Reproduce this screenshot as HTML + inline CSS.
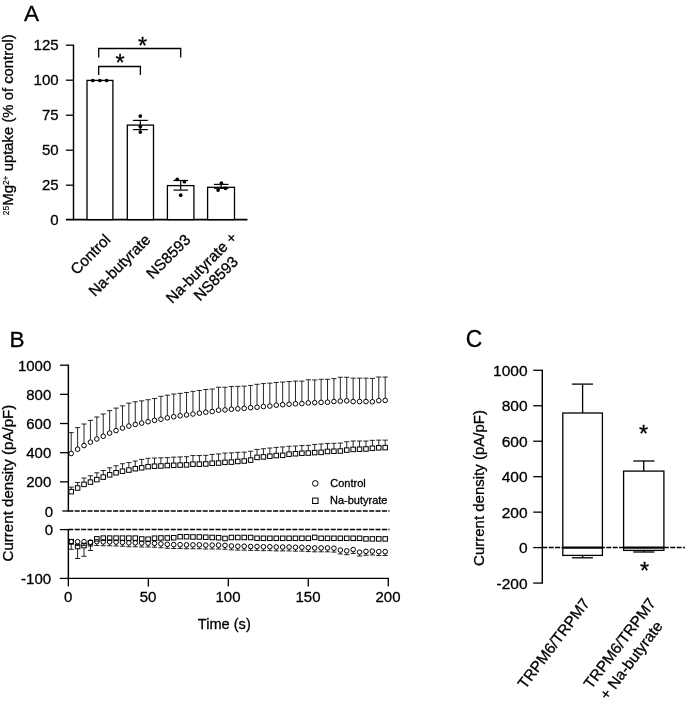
<!DOCTYPE html>
<html><head><meta charset="utf-8"><title>Figure</title>
<style>
html,body{margin:0;padding:0;background:#fff;}
svg{display:block;will-change:transform;}
svg text{font-family:"Liberation Sans",Arial,Helvetica,sans-serif;fill:#000;stroke:#000;stroke-width:0.3px;stroke-linejoin:round;}
</style></head>
<body>
<svg width="685" height="705" viewBox="0 0 685 705">
<rect width="685" height="705" fill="#fff"/>
<text x="24.10" y="20.90" font-size="22.6" text-anchor="start" >A</text>
<line x1="73.50" y1="44.55" x2="73.50" y2="220.30" stroke="#000" stroke-width="1.45" />
<text x="58.60" y="224.80" font-size="15.0" text-anchor="end" >0</text>
<line x1="65.90" y1="185.20" x2="73.50" y2="185.20" stroke="#000" stroke-width="1.3" />
<text x="58.60" y="190.10" font-size="15.0" text-anchor="end" >25</text>
<line x1="65.90" y1="150.20" x2="73.50" y2="150.20" stroke="#000" stroke-width="1.3" />
<text x="58.60" y="155.10" font-size="15.0" text-anchor="end" >50</text>
<line x1="65.90" y1="115.20" x2="73.50" y2="115.20" stroke="#000" stroke-width="1.3" />
<text x="58.60" y="120.10" font-size="15.0" text-anchor="end" >75</text>
<line x1="65.90" y1="80.20" x2="73.50" y2="80.20" stroke="#000" stroke-width="1.3" />
<text x="58.60" y="85.10" font-size="15.0" text-anchor="end" >100</text>
<line x1="65.90" y1="45.20" x2="73.50" y2="45.20" stroke="#000" stroke-width="1.3" />
<text x="58.60" y="50.10" font-size="15.0" text-anchor="end" >125</text>
<line x1="65.90" y1="219.60" x2="247.50" y2="219.60" stroke="#000" stroke-width="1.6" />
<rect x="87.00" y="80.40" width="25.90" height="139.20" fill="#fff" stroke="#000" stroke-width="1.3"/>
<rect x="127.30" y="125.10" width="26.20" height="94.50" fill="#fff" stroke="#000" stroke-width="1.3"/>
<rect x="167.40" y="185.60" width="26.50" height="34.00" fill="#fff" stroke="#000" stroke-width="1.3"/>
<rect x="207.60" y="187.30" width="26.90" height="32.30" fill="#fff" stroke="#000" stroke-width="1.3"/>
<line x1="140.30" y1="120.40" x2="140.30" y2="129.60" stroke="#000" stroke-width="1.2" />
<line x1="132.90" y1="120.40" x2="147.80" y2="120.40" stroke="#000" stroke-width="1.2" />
<line x1="132.90" y1="129.60" x2="147.80" y2="129.60" stroke="#000" stroke-width="1.2" />
<line x1="180.70" y1="180.50" x2="180.70" y2="190.10" stroke="#000" stroke-width="1.2" />
<line x1="173.40" y1="180.50" x2="188.10" y2="180.50" stroke="#000" stroke-width="1.2" />
<line x1="173.40" y1="190.10" x2="188.10" y2="190.10" stroke="#000" stroke-width="1.2" />
<line x1="221.20" y1="184.40" x2="221.20" y2="188.30" stroke="#000" stroke-width="1.2" />
<line x1="214.00" y1="184.40" x2="228.50" y2="184.40" stroke="#000" stroke-width="1.2" />
<line x1="214.00" y1="188.30" x2="228.50" y2="188.30" stroke="#000" stroke-width="1.2" />
<circle cx="92.80" cy="80.50" r="1.85" fill="#000"/>
<circle cx="99.80" cy="80.50" r="1.85" fill="#000"/>
<circle cx="106.60" cy="80.50" r="1.85" fill="#000"/>
<circle cx="140.30" cy="116.10" r="1.85" fill="#000"/>
<circle cx="140.30" cy="126.60" r="1.85" fill="#000"/>
<circle cx="140.30" cy="132.10" r="1.85" fill="#000"/>
<circle cx="177.20" cy="179.30" r="1.85" fill="#000"/>
<circle cx="184.40" cy="181.70" r="1.85" fill="#000"/>
<circle cx="180.70" cy="195.20" r="1.85" fill="#000"/>
<circle cx="221.40" cy="183.20" r="1.85" fill="#000"/>
<circle cx="218.10" cy="190.10" r="1.85" fill="#000"/>
<circle cx="225.50" cy="188.30" r="1.85" fill="#000"/>
<polyline points="98.7,57.4 98.7,48.5 180.7,48.5 180.7,57.4" fill="none" stroke="#000" stroke-width="1.3"/>
<polyline points="98.7,74.9 98.7,66.5 140.4,66.5 140.4,74.9" fill="none" stroke="#000" stroke-width="1.3"/>
<text x="142.50" y="53.60" font-size="23.5" text-anchor="middle" >*</text>
<text x="120.20" y="71.40" font-size="23.5" text-anchor="middle" >*</text>
<text transform="translate(111.50,240.70) rotate(-45)" font-size="15.3" text-anchor="end" >Control</text>
<text transform="translate(151.50,240.70) rotate(-45)" font-size="15.3" text-anchor="end" >Na-butyrate</text>
<text transform="translate(191.50,240.70) rotate(-45)" font-size="15.3" text-anchor="end" >NS8593</text>
<text transform="translate(238.00,238.50) rotate(-45)" font-size="15.3" text-anchor="end" >Na-butyrate +</text>
<text transform="translate(239.00,262.70) rotate(-45)" font-size="15.3" text-anchor="end" >NS8593</text>
<text transform="translate(13.2,215.2) rotate(-90)" font-size="14.85"><tspan font-size="8.5" dy="-4.7" stroke-width="0.15">25</tspan><tspan dy="4.7">Mg</tspan><tspan font-size="8.5" dy="-4.3" stroke-width="0.15">2+</tspan><tspan dy="4.3"> uptake (% of control)</tspan></text>
<text x="9.60" y="346.50" font-size="22.6" text-anchor="start" >B</text>
<line x1="68.35" y1="364.55" x2="68.35" y2="511.65" stroke="#000" stroke-width="1.45" />
<line x1="68.35" y1="528.95" x2="68.35" y2="579.05" stroke="#000" stroke-width="1.45" />
<line x1="62.30" y1="511.00" x2="68.35" y2="511.00" stroke="#000" stroke-width="1.3" />
<text x="53.00" y="516.60" font-size="15.0" text-anchor="end" >0</text>
<line x1="60.00" y1="481.84" x2="68.35" y2="481.84" stroke="#000" stroke-width="1.3" />
<text x="51.30" y="487.44" font-size="15.0" text-anchor="end" >200</text>
<line x1="60.00" y1="452.68" x2="68.35" y2="452.68" stroke="#000" stroke-width="1.3" />
<text x="51.30" y="458.28" font-size="15.0" text-anchor="end" >400</text>
<line x1="60.00" y1="423.52" x2="68.35" y2="423.52" stroke="#000" stroke-width="1.3" />
<text x="51.30" y="429.12" font-size="15.0" text-anchor="end" >600</text>
<line x1="60.00" y1="394.36" x2="68.35" y2="394.36" stroke="#000" stroke-width="1.3" />
<text x="51.30" y="399.96" font-size="15.0" text-anchor="end" >800</text>
<line x1="60.00" y1="365.20" x2="68.35" y2="365.20" stroke="#000" stroke-width="1.3" />
<text x="51.30" y="370.80" font-size="15.0" text-anchor="end" >1000</text>
<line x1="59.80" y1="529.60" x2="68.35" y2="529.60" stroke="#000" stroke-width="1.3" />
<line x1="59.80" y1="578.40" x2="68.35" y2="578.40" stroke="#000" stroke-width="1.3" />
<text x="53.00" y="535.10" font-size="15.0" text-anchor="end" >0</text>
<text x="51.10" y="583.70" font-size="15.0" text-anchor="end" >-100</text>
<line x1="68.35" y1="511.00" x2="389.50" y2="511.00" stroke="#000" stroke-width="1.5" stroke-dasharray="5 1.4"/>
<line x1="68.35" y1="529.60" x2="389.50" y2="529.60" stroke="#000" stroke-width="1.5" stroke-dasharray="5 1.4"/>
<line x1="67.65" y1="578.40" x2="388.95" y2="578.40" stroke="#000" stroke-width="1.4" />
<line x1="68.35" y1="578.40" x2="68.35" y2="586.60" stroke="#000" stroke-width="1.3" />
<text x="68.05" y="601.50" font-size="15.0" text-anchor="middle" >0</text>
<line x1="148.33" y1="578.40" x2="148.33" y2="586.60" stroke="#000" stroke-width="1.3" />
<text x="148.03" y="601.50" font-size="15.0" text-anchor="middle" >50</text>
<line x1="228.31" y1="578.40" x2="228.31" y2="586.60" stroke="#000" stroke-width="1.3" />
<text x="228.01" y="601.50" font-size="15.0" text-anchor="middle" >100</text>
<line x1="308.29" y1="578.40" x2="308.29" y2="586.60" stroke="#000" stroke-width="1.3" />
<text x="307.99" y="601.50" font-size="15.0" text-anchor="middle" >150</text>
<line x1="388.27" y1="578.40" x2="388.27" y2="586.60" stroke="#000" stroke-width="1.3" />
<text x="387.97" y="601.50" font-size="15.0" text-anchor="middle" >200</text>
<text x="197.80" y="628.90" font-size="14.6" text-anchor="start" >Time (s)</text>
<text transform="translate(13.1,561.5) rotate(-90)" font-size="15.1">Current density (pA/pF)</text>
<line x1="71.20" y1="432.63" x2="71.20" y2="451.21" stroke="#000" stroke-width="0.85" />
<line x1="68.60" y1="432.63" x2="73.80" y2="432.63" stroke="#000" stroke-width="0.85" />
<line x1="71.20" y1="487.10" x2="71.20" y2="489.44" stroke="#000" stroke-width="0.85" />
<line x1="68.60" y1="487.10" x2="73.80" y2="487.10" stroke="#000" stroke-width="0.85" />
<line x1="77.61" y1="427.64" x2="77.61" y2="446.90" stroke="#000" stroke-width="0.85" />
<line x1="75.01" y1="427.64" x2="80.21" y2="427.64" stroke="#000" stroke-width="0.85" />
<line x1="77.61" y1="482.56" x2="77.61" y2="485.81" stroke="#000" stroke-width="0.85" />
<line x1="75.01" y1="482.56" x2="80.21" y2="482.56" stroke="#000" stroke-width="0.85" />
<line x1="84.02" y1="424.00" x2="84.02" y2="443.27" stroke="#000" stroke-width="0.85" />
<line x1="81.42" y1="424.00" x2="86.62" y2="424.00" stroke="#000" stroke-width="0.85" />
<line x1="84.02" y1="478.02" x2="84.02" y2="482.18" stroke="#000" stroke-width="0.85" />
<line x1="81.42" y1="478.02" x2="86.62" y2="478.02" stroke="#000" stroke-width="0.85" />
<line x1="90.42" y1="420.37" x2="90.42" y2="439.86" stroke="#000" stroke-width="0.85" />
<line x1="87.82" y1="420.37" x2="93.02" y2="420.37" stroke="#000" stroke-width="0.85" />
<line x1="90.42" y1="475.75" x2="90.42" y2="479.91" stroke="#000" stroke-width="0.85" />
<line x1="87.82" y1="475.75" x2="93.02" y2="475.75" stroke="#000" stroke-width="0.85" />
<line x1="96.83" y1="416.97" x2="96.83" y2="436.68" stroke="#000" stroke-width="0.85" />
<line x1="94.23" y1="416.97" x2="99.43" y2="416.97" stroke="#000" stroke-width="0.85" />
<line x1="96.83" y1="472.80" x2="96.83" y2="477.41" stroke="#000" stroke-width="0.85" />
<line x1="94.23" y1="472.80" x2="99.43" y2="472.80" stroke="#000" stroke-width="0.85" />
<line x1="103.24" y1="414.02" x2="103.24" y2="433.96" stroke="#000" stroke-width="0.85" />
<line x1="100.64" y1="414.02" x2="105.84" y2="414.02" stroke="#000" stroke-width="0.85" />
<line x1="103.24" y1="470.53" x2="103.24" y2="474.91" stroke="#000" stroke-width="0.85" />
<line x1="100.64" y1="470.53" x2="105.84" y2="470.53" stroke="#000" stroke-width="0.85" />
<line x1="109.65" y1="410.61" x2="109.65" y2="430.78" stroke="#000" stroke-width="0.85" />
<line x1="107.05" y1="410.61" x2="112.25" y2="410.61" stroke="#000" stroke-width="0.85" />
<line x1="109.65" y1="467.81" x2="109.65" y2="472.64" stroke="#000" stroke-width="0.85" />
<line x1="107.05" y1="467.81" x2="112.25" y2="467.81" stroke="#000" stroke-width="0.85" />
<line x1="116.06" y1="408.12" x2="116.06" y2="428.29" stroke="#000" stroke-width="0.85" />
<line x1="113.46" y1="408.12" x2="118.66" y2="408.12" stroke="#000" stroke-width="0.85" />
<line x1="116.06" y1="465.76" x2="116.06" y2="470.60" stroke="#000" stroke-width="0.85" />
<line x1="113.46" y1="465.76" x2="118.66" y2="465.76" stroke="#000" stroke-width="0.85" />
<line x1="122.46" y1="405.85" x2="122.46" y2="425.79" stroke="#000" stroke-width="0.85" />
<line x1="119.86" y1="405.85" x2="125.06" y2="405.85" stroke="#000" stroke-width="0.85" />
<line x1="122.46" y1="463.72" x2="122.46" y2="469.01" stroke="#000" stroke-width="0.85" />
<line x1="119.86" y1="463.72" x2="125.06" y2="463.72" stroke="#000" stroke-width="0.85" />
<line x1="128.87" y1="403.12" x2="128.87" y2="423.75" stroke="#000" stroke-width="0.85" />
<line x1="126.27" y1="403.12" x2="131.47" y2="403.12" stroke="#000" stroke-width="0.85" />
<line x1="128.87" y1="462.59" x2="128.87" y2="467.88" stroke="#000" stroke-width="0.85" />
<line x1="126.27" y1="462.59" x2="131.47" y2="462.59" stroke="#000" stroke-width="0.85" />
<line x1="135.28" y1="401.76" x2="135.28" y2="422.16" stroke="#000" stroke-width="0.85" />
<line x1="132.68" y1="401.76" x2="137.88" y2="401.76" stroke="#000" stroke-width="0.85" />
<line x1="135.28" y1="461.00" x2="135.28" y2="466.52" stroke="#000" stroke-width="0.85" />
<line x1="132.68" y1="461.00" x2="137.88" y2="461.00" stroke="#000" stroke-width="0.85" />
<line x1="141.69" y1="400.85" x2="141.69" y2="420.80" stroke="#000" stroke-width="0.85" />
<line x1="139.09" y1="400.85" x2="144.29" y2="400.85" stroke="#000" stroke-width="0.85" />
<line x1="141.69" y1="459.41" x2="141.69" y2="465.61" stroke="#000" stroke-width="0.85" />
<line x1="139.09" y1="459.41" x2="144.29" y2="459.41" stroke="#000" stroke-width="0.85" />
<line x1="148.10" y1="399.72" x2="148.10" y2="419.43" stroke="#000" stroke-width="0.85" />
<line x1="145.50" y1="399.72" x2="150.70" y2="399.72" stroke="#000" stroke-width="0.85" />
<line x1="148.10" y1="458.28" x2="148.10" y2="464.47" stroke="#000" stroke-width="0.85" />
<line x1="145.50" y1="458.28" x2="150.70" y2="458.28" stroke="#000" stroke-width="0.85" />
<line x1="154.50" y1="398.58" x2="154.50" y2="418.07" stroke="#000" stroke-width="0.85" />
<line x1="151.90" y1="398.58" x2="157.10" y2="398.58" stroke="#000" stroke-width="0.85" />
<line x1="154.50" y1="458.05" x2="154.50" y2="464.02" stroke="#000" stroke-width="0.85" />
<line x1="151.90" y1="458.05" x2="157.10" y2="458.05" stroke="#000" stroke-width="0.85" />
<line x1="160.91" y1="396.31" x2="160.91" y2="416.94" stroke="#000" stroke-width="0.85" />
<line x1="158.31" y1="396.31" x2="163.51" y2="396.31" stroke="#000" stroke-width="0.85" />
<line x1="160.91" y1="457.82" x2="160.91" y2="463.79" stroke="#000" stroke-width="0.85" />
<line x1="158.31" y1="457.82" x2="163.51" y2="457.82" stroke="#000" stroke-width="0.85" />
<line x1="167.32" y1="395.18" x2="167.32" y2="415.58" stroke="#000" stroke-width="0.85" />
<line x1="164.72" y1="395.18" x2="169.92" y2="395.18" stroke="#000" stroke-width="0.85" />
<line x1="167.32" y1="457.59" x2="167.32" y2="463.34" stroke="#000" stroke-width="0.85" />
<line x1="164.72" y1="457.59" x2="169.92" y2="457.59" stroke="#000" stroke-width="0.85" />
<line x1="173.73" y1="394.04" x2="173.73" y2="414.44" stroke="#000" stroke-width="0.85" />
<line x1="171.13" y1="394.04" x2="176.33" y2="394.04" stroke="#000" stroke-width="0.85" />
<line x1="173.73" y1="457.14" x2="173.73" y2="463.11" stroke="#000" stroke-width="0.85" />
<line x1="171.13" y1="457.14" x2="176.33" y2="457.14" stroke="#000" stroke-width="0.85" />
<line x1="180.14" y1="393.36" x2="180.14" y2="413.53" stroke="#000" stroke-width="0.85" />
<line x1="177.54" y1="393.36" x2="182.74" y2="393.36" stroke="#000" stroke-width="0.85" />
<line x1="180.14" y1="456.91" x2="180.14" y2="462.88" stroke="#000" stroke-width="0.85" />
<line x1="177.54" y1="456.91" x2="182.74" y2="456.91" stroke="#000" stroke-width="0.85" />
<line x1="186.54" y1="392.46" x2="186.54" y2="412.63" stroke="#000" stroke-width="0.85" />
<line x1="183.94" y1="392.46" x2="189.14" y2="392.46" stroke="#000" stroke-width="0.85" />
<line x1="186.54" y1="456.69" x2="186.54" y2="462.66" stroke="#000" stroke-width="0.85" />
<line x1="183.94" y1="456.69" x2="189.14" y2="456.69" stroke="#000" stroke-width="0.85" />
<line x1="192.95" y1="391.32" x2="192.95" y2="411.72" stroke="#000" stroke-width="0.85" />
<line x1="190.35" y1="391.32" x2="195.55" y2="391.32" stroke="#000" stroke-width="0.85" />
<line x1="192.95" y1="455.55" x2="192.95" y2="461.98" stroke="#000" stroke-width="0.85" />
<line x1="190.35" y1="455.55" x2="195.55" y2="455.55" stroke="#000" stroke-width="0.85" />
<line x1="199.36" y1="390.41" x2="199.36" y2="410.81" stroke="#000" stroke-width="0.85" />
<line x1="196.76" y1="390.41" x2="201.96" y2="390.41" stroke="#000" stroke-width="0.85" />
<line x1="199.36" y1="455.55" x2="199.36" y2="461.98" stroke="#000" stroke-width="0.85" />
<line x1="196.76" y1="455.55" x2="201.96" y2="455.55" stroke="#000" stroke-width="0.85" />
<line x1="205.77" y1="389.51" x2="205.77" y2="409.90" stroke="#000" stroke-width="0.85" />
<line x1="203.17" y1="389.51" x2="208.37" y2="389.51" stroke="#000" stroke-width="0.85" />
<line x1="205.77" y1="455.32" x2="205.77" y2="461.75" stroke="#000" stroke-width="0.85" />
<line x1="203.17" y1="455.32" x2="208.37" y2="455.32" stroke="#000" stroke-width="0.85" />
<line x1="212.18" y1="389.05" x2="212.18" y2="409.22" stroke="#000" stroke-width="0.85" />
<line x1="209.58" y1="389.05" x2="214.78" y2="389.05" stroke="#000" stroke-width="0.85" />
<line x1="212.18" y1="454.42" x2="212.18" y2="461.07" stroke="#000" stroke-width="0.85" />
<line x1="209.58" y1="454.42" x2="214.78" y2="454.42" stroke="#000" stroke-width="0.85" />
<line x1="218.58" y1="387.24" x2="218.58" y2="407.86" stroke="#000" stroke-width="0.85" />
<line x1="215.98" y1="387.24" x2="221.18" y2="387.24" stroke="#000" stroke-width="0.85" />
<line x1="218.58" y1="453.96" x2="218.58" y2="460.84" stroke="#000" stroke-width="0.85" />
<line x1="215.98" y1="453.96" x2="221.18" y2="453.96" stroke="#000" stroke-width="0.85" />
<line x1="224.99" y1="387.24" x2="224.99" y2="407.63" stroke="#000" stroke-width="0.85" />
<line x1="222.39" y1="387.24" x2="227.59" y2="387.24" stroke="#000" stroke-width="0.85" />
<line x1="224.99" y1="453.05" x2="224.99" y2="460.16" stroke="#000" stroke-width="0.85" />
<line x1="222.39" y1="453.05" x2="227.59" y2="453.05" stroke="#000" stroke-width="0.85" />
<line x1="231.40" y1="386.55" x2="231.40" y2="406.95" stroke="#000" stroke-width="0.85" />
<line x1="228.80" y1="386.55" x2="234.00" y2="386.55" stroke="#000" stroke-width="0.85" />
<line x1="231.40" y1="452.83" x2="231.40" y2="459.93" stroke="#000" stroke-width="0.85" />
<line x1="228.80" y1="452.83" x2="234.00" y2="452.83" stroke="#000" stroke-width="0.85" />
<line x1="237.81" y1="386.33" x2="237.81" y2="406.50" stroke="#000" stroke-width="0.85" />
<line x1="235.21" y1="386.33" x2="240.41" y2="386.33" stroke="#000" stroke-width="0.85" />
<line x1="237.81" y1="452.37" x2="237.81" y2="459.25" stroke="#000" stroke-width="0.85" />
<line x1="235.21" y1="452.37" x2="240.41" y2="452.37" stroke="#000" stroke-width="0.85" />
<line x1="244.22" y1="386.10" x2="244.22" y2="406.04" stroke="#000" stroke-width="0.85" />
<line x1="241.62" y1="386.10" x2="246.82" y2="386.10" stroke="#000" stroke-width="0.85" />
<line x1="244.22" y1="452.15" x2="244.22" y2="458.80" stroke="#000" stroke-width="0.85" />
<line x1="241.62" y1="452.15" x2="246.82" y2="452.15" stroke="#000" stroke-width="0.85" />
<line x1="250.62" y1="385.42" x2="250.62" y2="405.36" stroke="#000" stroke-width="0.85" />
<line x1="248.02" y1="385.42" x2="253.22" y2="385.42" stroke="#000" stroke-width="0.85" />
<line x1="250.62" y1="451.24" x2="250.62" y2="457.89" stroke="#000" stroke-width="0.85" />
<line x1="248.02" y1="451.24" x2="253.22" y2="451.24" stroke="#000" stroke-width="0.85" />
<line x1="257.03" y1="384.29" x2="257.03" y2="404.91" stroke="#000" stroke-width="0.85" />
<line x1="254.43" y1="384.29" x2="259.63" y2="384.29" stroke="#000" stroke-width="0.85" />
<line x1="257.03" y1="449.42" x2="257.03" y2="455.17" stroke="#000" stroke-width="0.85" />
<line x1="254.43" y1="449.42" x2="259.63" y2="449.42" stroke="#000" stroke-width="0.85" />
<line x1="263.44" y1="383.60" x2="263.44" y2="404.23" stroke="#000" stroke-width="0.85" />
<line x1="260.84" y1="383.60" x2="266.04" y2="383.60" stroke="#000" stroke-width="0.85" />
<line x1="263.44" y1="448.74" x2="263.44" y2="454.71" stroke="#000" stroke-width="0.85" />
<line x1="260.84" y1="448.74" x2="266.04" y2="448.74" stroke="#000" stroke-width="0.85" />
<line x1="269.85" y1="383.15" x2="269.85" y2="403.77" stroke="#000" stroke-width="0.85" />
<line x1="267.25" y1="383.15" x2="272.45" y2="383.15" stroke="#000" stroke-width="0.85" />
<line x1="269.85" y1="448.06" x2="269.85" y2="454.03" stroke="#000" stroke-width="0.85" />
<line x1="267.25" y1="448.06" x2="272.45" y2="448.06" stroke="#000" stroke-width="0.85" />
<line x1="276.26" y1="382.47" x2="276.26" y2="402.87" stroke="#000" stroke-width="0.85" />
<line x1="273.66" y1="382.47" x2="278.86" y2="382.47" stroke="#000" stroke-width="0.85" />
<line x1="276.26" y1="447.38" x2="276.26" y2="453.35" stroke="#000" stroke-width="0.85" />
<line x1="273.66" y1="447.38" x2="278.86" y2="447.38" stroke="#000" stroke-width="0.85" />
<line x1="282.66" y1="382.02" x2="282.66" y2="402.41" stroke="#000" stroke-width="0.85" />
<line x1="280.06" y1="382.02" x2="285.26" y2="382.02" stroke="#000" stroke-width="0.85" />
<line x1="282.66" y1="446.93" x2="282.66" y2="453.12" stroke="#000" stroke-width="0.85" />
<line x1="280.06" y1="446.93" x2="285.26" y2="446.93" stroke="#000" stroke-width="0.85" />
<line x1="289.07" y1="381.56" x2="289.07" y2="401.96" stroke="#000" stroke-width="0.85" />
<line x1="286.47" y1="381.56" x2="291.67" y2="381.56" stroke="#000" stroke-width="0.85" />
<line x1="289.07" y1="446.25" x2="289.07" y2="451.99" stroke="#000" stroke-width="0.85" />
<line x1="286.47" y1="446.25" x2="291.67" y2="446.25" stroke="#000" stroke-width="0.85" />
<line x1="295.48" y1="381.11" x2="295.48" y2="401.50" stroke="#000" stroke-width="0.85" />
<line x1="292.88" y1="381.11" x2="298.08" y2="381.11" stroke="#000" stroke-width="0.85" />
<line x1="295.48" y1="446.02" x2="295.48" y2="451.54" stroke="#000" stroke-width="0.85" />
<line x1="292.88" y1="446.02" x2="298.08" y2="446.02" stroke="#000" stroke-width="0.85" />
<line x1="301.89" y1="381.11" x2="301.89" y2="401.28" stroke="#000" stroke-width="0.85" />
<line x1="299.29" y1="381.11" x2="304.49" y2="381.11" stroke="#000" stroke-width="0.85" />
<line x1="301.89" y1="445.57" x2="301.89" y2="451.08" stroke="#000" stroke-width="0.85" />
<line x1="299.29" y1="445.57" x2="304.49" y2="445.57" stroke="#000" stroke-width="0.85" />
<line x1="308.30" y1="379.75" x2="308.30" y2="400.60" stroke="#000" stroke-width="0.85" />
<line x1="305.70" y1="379.75" x2="310.90" y2="379.75" stroke="#000" stroke-width="0.85" />
<line x1="308.30" y1="445.34" x2="308.30" y2="450.85" stroke="#000" stroke-width="0.85" />
<line x1="305.70" y1="445.34" x2="310.90" y2="445.34" stroke="#000" stroke-width="0.85" />
<line x1="314.70" y1="379.97" x2="314.70" y2="400.37" stroke="#000" stroke-width="0.85" />
<line x1="312.10" y1="379.97" x2="317.30" y2="379.97" stroke="#000" stroke-width="0.85" />
<line x1="314.70" y1="444.43" x2="314.70" y2="450.40" stroke="#000" stroke-width="0.85" />
<line x1="312.10" y1="444.43" x2="317.30" y2="444.43" stroke="#000" stroke-width="0.85" />
<line x1="321.11" y1="379.29" x2="321.11" y2="400.14" stroke="#000" stroke-width="0.85" />
<line x1="318.51" y1="379.29" x2="323.71" y2="379.29" stroke="#000" stroke-width="0.85" />
<line x1="321.11" y1="443.98" x2="321.11" y2="450.17" stroke="#000" stroke-width="0.85" />
<line x1="318.51" y1="443.98" x2="323.71" y2="443.98" stroke="#000" stroke-width="0.85" />
<line x1="327.52" y1="379.29" x2="327.52" y2="399.92" stroke="#000" stroke-width="0.85" />
<line x1="324.92" y1="379.29" x2="330.12" y2="379.29" stroke="#000" stroke-width="0.85" />
<line x1="327.52" y1="443.52" x2="327.52" y2="449.27" stroke="#000" stroke-width="0.85" />
<line x1="324.92" y1="443.52" x2="330.12" y2="443.52" stroke="#000" stroke-width="0.85" />
<line x1="333.93" y1="378.61" x2="333.93" y2="399.23" stroke="#000" stroke-width="0.85" />
<line x1="331.33" y1="378.61" x2="336.53" y2="378.61" stroke="#000" stroke-width="0.85" />
<line x1="333.93" y1="443.30" x2="333.93" y2="449.04" stroke="#000" stroke-width="0.85" />
<line x1="331.33" y1="443.30" x2="336.53" y2="443.30" stroke="#000" stroke-width="0.85" />
<line x1="340.34" y1="377.25" x2="340.34" y2="398.78" stroke="#000" stroke-width="0.85" />
<line x1="337.74" y1="377.25" x2="342.94" y2="377.25" stroke="#000" stroke-width="0.85" />
<line x1="340.34" y1="443.07" x2="340.34" y2="448.81" stroke="#000" stroke-width="0.85" />
<line x1="337.74" y1="443.07" x2="342.94" y2="443.07" stroke="#000" stroke-width="0.85" />
<line x1="346.74" y1="377.25" x2="346.74" y2="398.55" stroke="#000" stroke-width="0.85" />
<line x1="344.14" y1="377.25" x2="349.34" y2="377.25" stroke="#000" stroke-width="0.85" />
<line x1="346.74" y1="441.71" x2="346.74" y2="447.90" stroke="#000" stroke-width="0.85" />
<line x1="344.14" y1="441.71" x2="349.34" y2="441.71" stroke="#000" stroke-width="0.85" />
<line x1="353.15" y1="378.16" x2="353.15" y2="399.23" stroke="#000" stroke-width="0.85" />
<line x1="350.55" y1="378.16" x2="355.75" y2="378.16" stroke="#000" stroke-width="0.85" />
<line x1="353.15" y1="441.03" x2="353.15" y2="447.22" stroke="#000" stroke-width="0.85" />
<line x1="350.55" y1="441.03" x2="355.75" y2="441.03" stroke="#000" stroke-width="0.85" />
<line x1="359.56" y1="378.16" x2="359.56" y2="399.23" stroke="#000" stroke-width="0.85" />
<line x1="356.96" y1="378.16" x2="362.16" y2="378.16" stroke="#000" stroke-width="0.85" />
<line x1="359.56" y1="441.03" x2="359.56" y2="447.00" stroke="#000" stroke-width="0.85" />
<line x1="356.96" y1="441.03" x2="362.16" y2="441.03" stroke="#000" stroke-width="0.85" />
<line x1="365.97" y1="378.16" x2="365.97" y2="399.23" stroke="#000" stroke-width="0.85" />
<line x1="363.37" y1="378.16" x2="368.57" y2="378.16" stroke="#000" stroke-width="0.85" />
<line x1="365.97" y1="441.03" x2="365.97" y2="446.77" stroke="#000" stroke-width="0.85" />
<line x1="363.37" y1="441.03" x2="368.57" y2="441.03" stroke="#000" stroke-width="0.85" />
<line x1="372.38" y1="378.38" x2="372.38" y2="399.46" stroke="#000" stroke-width="0.85" />
<line x1="369.78" y1="378.38" x2="374.98" y2="378.38" stroke="#000" stroke-width="0.85" />
<line x1="372.38" y1="440.34" x2="372.38" y2="446.09" stroke="#000" stroke-width="0.85" />
<line x1="369.78" y1="440.34" x2="374.98" y2="440.34" stroke="#000" stroke-width="0.85" />
<line x1="378.78" y1="377.02" x2="378.78" y2="398.33" stroke="#000" stroke-width="0.85" />
<line x1="376.18" y1="377.02" x2="381.38" y2="377.02" stroke="#000" stroke-width="0.85" />
<line x1="378.78" y1="440.12" x2="378.78" y2="445.63" stroke="#000" stroke-width="0.85" />
<line x1="376.18" y1="440.12" x2="381.38" y2="440.12" stroke="#000" stroke-width="0.85" />
<line x1="385.19" y1="377.02" x2="385.19" y2="398.10" stroke="#000" stroke-width="0.85" />
<line x1="382.59" y1="377.02" x2="387.79" y2="377.02" stroke="#000" stroke-width="0.85" />
<line x1="385.19" y1="440.12" x2="385.19" y2="445.41" stroke="#000" stroke-width="0.85" />
<line x1="382.59" y1="440.12" x2="387.79" y2="440.12" stroke="#000" stroke-width="0.85" />
<circle cx="71.20" cy="453.51" r="2.3" fill="#fff" stroke="#000" stroke-width="1.0"/>
<rect x="68.95" y="489.39" width="4.5" height="4.5" fill="#fff" stroke="#000" stroke-width="1.0"/>
<circle cx="77.61" cy="449.20" r="2.3" fill="#fff" stroke="#000" stroke-width="1.0"/>
<rect x="75.36" y="485.76" width="4.5" height="4.5" fill="#fff" stroke="#000" stroke-width="1.0"/>
<circle cx="84.02" cy="445.57" r="2.3" fill="#fff" stroke="#000" stroke-width="1.0"/>
<rect x="81.77" y="482.13" width="4.5" height="4.5" fill="#fff" stroke="#000" stroke-width="1.0"/>
<circle cx="90.42" cy="442.16" r="2.3" fill="#fff" stroke="#000" stroke-width="1.0"/>
<rect x="88.17" y="479.86" width="4.5" height="4.5" fill="#fff" stroke="#000" stroke-width="1.0"/>
<circle cx="96.83" cy="438.98" r="2.3" fill="#fff" stroke="#000" stroke-width="1.0"/>
<rect x="94.58" y="477.36" width="4.5" height="4.5" fill="#fff" stroke="#000" stroke-width="1.0"/>
<circle cx="103.24" cy="436.26" r="2.3" fill="#fff" stroke="#000" stroke-width="1.0"/>
<rect x="100.99" y="474.86" width="4.5" height="4.5" fill="#fff" stroke="#000" stroke-width="1.0"/>
<circle cx="109.65" cy="433.08" r="2.3" fill="#fff" stroke="#000" stroke-width="1.0"/>
<rect x="107.40" y="472.59" width="4.5" height="4.5" fill="#fff" stroke="#000" stroke-width="1.0"/>
<circle cx="116.06" cy="430.59" r="2.3" fill="#fff" stroke="#000" stroke-width="1.0"/>
<rect x="113.81" y="470.55" width="4.5" height="4.5" fill="#fff" stroke="#000" stroke-width="1.0"/>
<circle cx="122.46" cy="428.09" r="2.3" fill="#fff" stroke="#000" stroke-width="1.0"/>
<rect x="120.21" y="468.96" width="4.5" height="4.5" fill="#fff" stroke="#000" stroke-width="1.0"/>
<circle cx="128.87" cy="426.05" r="2.3" fill="#fff" stroke="#000" stroke-width="1.0"/>
<rect x="126.62" y="467.83" width="4.5" height="4.5" fill="#fff" stroke="#000" stroke-width="1.0"/>
<circle cx="135.28" cy="424.46" r="2.3" fill="#fff" stroke="#000" stroke-width="1.0"/>
<rect x="133.03" y="466.47" width="4.5" height="4.5" fill="#fff" stroke="#000" stroke-width="1.0"/>
<circle cx="141.69" cy="423.10" r="2.3" fill="#fff" stroke="#000" stroke-width="1.0"/>
<rect x="139.44" y="465.56" width="4.5" height="4.5" fill="#fff" stroke="#000" stroke-width="1.0"/>
<circle cx="148.10" cy="421.73" r="2.3" fill="#fff" stroke="#000" stroke-width="1.0"/>
<rect x="145.85" y="464.42" width="4.5" height="4.5" fill="#fff" stroke="#000" stroke-width="1.0"/>
<circle cx="154.50" cy="420.37" r="2.3" fill="#fff" stroke="#000" stroke-width="1.0"/>
<rect x="152.25" y="463.97" width="4.5" height="4.5" fill="#fff" stroke="#000" stroke-width="1.0"/>
<circle cx="160.91" cy="419.24" r="2.3" fill="#fff" stroke="#000" stroke-width="1.0"/>
<rect x="158.66" y="463.74" width="4.5" height="4.5" fill="#fff" stroke="#000" stroke-width="1.0"/>
<circle cx="167.32" cy="417.88" r="2.3" fill="#fff" stroke="#000" stroke-width="1.0"/>
<rect x="165.07" y="463.29" width="4.5" height="4.5" fill="#fff" stroke="#000" stroke-width="1.0"/>
<circle cx="173.73" cy="416.74" r="2.3" fill="#fff" stroke="#000" stroke-width="1.0"/>
<rect x="171.48" y="463.06" width="4.5" height="4.5" fill="#fff" stroke="#000" stroke-width="1.0"/>
<circle cx="180.14" cy="415.83" r="2.3" fill="#fff" stroke="#000" stroke-width="1.0"/>
<rect x="177.89" y="462.83" width="4.5" height="4.5" fill="#fff" stroke="#000" stroke-width="1.0"/>
<circle cx="186.54" cy="414.93" r="2.3" fill="#fff" stroke="#000" stroke-width="1.0"/>
<rect x="184.29" y="462.61" width="4.5" height="4.5" fill="#fff" stroke="#000" stroke-width="1.0"/>
<circle cx="192.95" cy="414.02" r="2.3" fill="#fff" stroke="#000" stroke-width="1.0"/>
<rect x="190.70" y="461.93" width="4.5" height="4.5" fill="#fff" stroke="#000" stroke-width="1.0"/>
<circle cx="199.36" cy="413.11" r="2.3" fill="#fff" stroke="#000" stroke-width="1.0"/>
<rect x="197.11" y="461.93" width="4.5" height="4.5" fill="#fff" stroke="#000" stroke-width="1.0"/>
<circle cx="205.77" cy="412.20" r="2.3" fill="#fff" stroke="#000" stroke-width="1.0"/>
<rect x="203.52" y="461.70" width="4.5" height="4.5" fill="#fff" stroke="#000" stroke-width="1.0"/>
<circle cx="212.18" cy="411.52" r="2.3" fill="#fff" stroke="#000" stroke-width="1.0"/>
<rect x="209.93" y="461.02" width="4.5" height="4.5" fill="#fff" stroke="#000" stroke-width="1.0"/>
<circle cx="218.58" cy="410.16" r="2.3" fill="#fff" stroke="#000" stroke-width="1.0"/>
<rect x="216.33" y="460.79" width="4.5" height="4.5" fill="#fff" stroke="#000" stroke-width="1.0"/>
<circle cx="224.99" cy="409.93" r="2.3" fill="#fff" stroke="#000" stroke-width="1.0"/>
<rect x="222.74" y="460.11" width="4.5" height="4.5" fill="#fff" stroke="#000" stroke-width="1.0"/>
<circle cx="231.40" cy="409.25" r="2.3" fill="#fff" stroke="#000" stroke-width="1.0"/>
<rect x="229.15" y="459.88" width="4.5" height="4.5" fill="#fff" stroke="#000" stroke-width="1.0"/>
<circle cx="237.81" cy="408.80" r="2.3" fill="#fff" stroke="#000" stroke-width="1.0"/>
<rect x="235.56" y="459.20" width="4.5" height="4.5" fill="#fff" stroke="#000" stroke-width="1.0"/>
<circle cx="244.22" cy="408.34" r="2.3" fill="#fff" stroke="#000" stroke-width="1.0"/>
<rect x="241.97" y="458.75" width="4.5" height="4.5" fill="#fff" stroke="#000" stroke-width="1.0"/>
<circle cx="250.62" cy="407.66" r="2.3" fill="#fff" stroke="#000" stroke-width="1.0"/>
<rect x="248.37" y="457.84" width="4.5" height="4.5" fill="#fff" stroke="#000" stroke-width="1.0"/>
<circle cx="257.03" cy="407.21" r="2.3" fill="#fff" stroke="#000" stroke-width="1.0"/>
<rect x="254.78" y="455.12" width="4.5" height="4.5" fill="#fff" stroke="#000" stroke-width="1.0"/>
<circle cx="263.44" cy="406.53" r="2.3" fill="#fff" stroke="#000" stroke-width="1.0"/>
<rect x="261.19" y="454.66" width="4.5" height="4.5" fill="#fff" stroke="#000" stroke-width="1.0"/>
<circle cx="269.85" cy="406.07" r="2.3" fill="#fff" stroke="#000" stroke-width="1.0"/>
<rect x="267.60" y="453.98" width="4.5" height="4.5" fill="#fff" stroke="#000" stroke-width="1.0"/>
<circle cx="276.26" cy="405.17" r="2.3" fill="#fff" stroke="#000" stroke-width="1.0"/>
<rect x="274.01" y="453.30" width="4.5" height="4.5" fill="#fff" stroke="#000" stroke-width="1.0"/>
<circle cx="282.66" cy="404.71" r="2.3" fill="#fff" stroke="#000" stroke-width="1.0"/>
<rect x="280.41" y="453.07" width="4.5" height="4.5" fill="#fff" stroke="#000" stroke-width="1.0"/>
<circle cx="289.07" cy="404.26" r="2.3" fill="#fff" stroke="#000" stroke-width="1.0"/>
<rect x="286.82" y="451.94" width="4.5" height="4.5" fill="#fff" stroke="#000" stroke-width="1.0"/>
<circle cx="295.48" cy="403.80" r="2.3" fill="#fff" stroke="#000" stroke-width="1.0"/>
<rect x="293.23" y="451.49" width="4.5" height="4.5" fill="#fff" stroke="#000" stroke-width="1.0"/>
<circle cx="301.89" cy="403.58" r="2.3" fill="#fff" stroke="#000" stroke-width="1.0"/>
<rect x="299.64" y="451.03" width="4.5" height="4.5" fill="#fff" stroke="#000" stroke-width="1.0"/>
<circle cx="308.30" cy="402.90" r="2.3" fill="#fff" stroke="#000" stroke-width="1.0"/>
<rect x="306.05" y="450.80" width="4.5" height="4.5" fill="#fff" stroke="#000" stroke-width="1.0"/>
<circle cx="314.70" cy="402.67" r="2.3" fill="#fff" stroke="#000" stroke-width="1.0"/>
<rect x="312.45" y="450.35" width="4.5" height="4.5" fill="#fff" stroke="#000" stroke-width="1.0"/>
<circle cx="321.11" cy="402.44" r="2.3" fill="#fff" stroke="#000" stroke-width="1.0"/>
<rect x="318.86" y="450.12" width="4.5" height="4.5" fill="#fff" stroke="#000" stroke-width="1.0"/>
<circle cx="327.52" cy="402.22" r="2.3" fill="#fff" stroke="#000" stroke-width="1.0"/>
<rect x="325.27" y="449.22" width="4.5" height="4.5" fill="#fff" stroke="#000" stroke-width="1.0"/>
<circle cx="333.93" cy="401.53" r="2.3" fill="#fff" stroke="#000" stroke-width="1.0"/>
<rect x="331.68" y="448.99" width="4.5" height="4.5" fill="#fff" stroke="#000" stroke-width="1.0"/>
<circle cx="340.34" cy="401.08" r="2.3" fill="#fff" stroke="#000" stroke-width="1.0"/>
<rect x="338.09" y="448.76" width="4.5" height="4.5" fill="#fff" stroke="#000" stroke-width="1.0"/>
<circle cx="346.74" cy="400.85" r="2.3" fill="#fff" stroke="#000" stroke-width="1.0"/>
<rect x="344.49" y="447.85" width="4.5" height="4.5" fill="#fff" stroke="#000" stroke-width="1.0"/>
<circle cx="353.15" cy="401.53" r="2.3" fill="#fff" stroke="#000" stroke-width="1.0"/>
<rect x="350.90" y="447.17" width="4.5" height="4.5" fill="#fff" stroke="#000" stroke-width="1.0"/>
<circle cx="359.56" cy="401.53" r="2.3" fill="#fff" stroke="#000" stroke-width="1.0"/>
<rect x="357.31" y="446.95" width="4.5" height="4.5" fill="#fff" stroke="#000" stroke-width="1.0"/>
<circle cx="365.97" cy="401.53" r="2.3" fill="#fff" stroke="#000" stroke-width="1.0"/>
<rect x="363.72" y="446.72" width="4.5" height="4.5" fill="#fff" stroke="#000" stroke-width="1.0"/>
<circle cx="372.38" cy="401.76" r="2.3" fill="#fff" stroke="#000" stroke-width="1.0"/>
<rect x="370.13" y="446.04" width="4.5" height="4.5" fill="#fff" stroke="#000" stroke-width="1.0"/>
<circle cx="378.78" cy="400.63" r="2.3" fill="#fff" stroke="#000" stroke-width="1.0"/>
<rect x="376.53" y="445.58" width="4.5" height="4.5" fill="#fff" stroke="#000" stroke-width="1.0"/>
<circle cx="385.19" cy="400.40" r="2.3" fill="#fff" stroke="#000" stroke-width="1.0"/>
<rect x="382.94" y="445.36" width="4.5" height="4.5" fill="#fff" stroke="#000" stroke-width="1.0"/>
<line x1="71.20" y1="543.89" x2="71.20" y2="549.30" stroke="#000" stroke-width="0.85" />
<line x1="68.60" y1="549.30" x2="73.80" y2="549.30" stroke="#000" stroke-width="0.85" />
<line x1="71.20" y1="543.99" x2="71.20" y2="543.99" stroke="#000" stroke-width="0.85" />
<line x1="68.60" y1="543.99" x2="73.80" y2="543.99" stroke="#000" stroke-width="0.85" />
<line x1="77.61" y1="548.71" x2="77.61" y2="558.50" stroke="#000" stroke-width="0.85" />
<line x1="75.01" y1="558.50" x2="80.21" y2="558.50" stroke="#000" stroke-width="0.85" />
<line x1="77.61" y1="543.99" x2="77.61" y2="545.59" stroke="#000" stroke-width="0.85" />
<line x1="75.01" y1="545.59" x2="80.21" y2="545.59" stroke="#000" stroke-width="0.85" />
<line x1="84.02" y1="547.76" x2="84.02" y2="556.30" stroke="#000" stroke-width="0.85" />
<line x1="81.42" y1="556.30" x2="86.62" y2="556.30" stroke="#000" stroke-width="0.85" />
<line x1="84.02" y1="543.99" x2="84.02" y2="545.59" stroke="#000" stroke-width="0.85" />
<line x1="81.42" y1="545.59" x2="86.62" y2="545.59" stroke="#000" stroke-width="0.85" />
<line x1="90.42" y1="544.88" x2="90.42" y2="550.50" stroke="#000" stroke-width="0.85" />
<line x1="87.82" y1="550.50" x2="93.02" y2="550.50" stroke="#000" stroke-width="0.85" />
<line x1="90.42" y1="544.48" x2="90.42" y2="546.08" stroke="#000" stroke-width="0.85" />
<line x1="87.82" y1="546.08" x2="93.02" y2="546.08" stroke="#000" stroke-width="0.85" />
<line x1="96.83" y1="543.93" x2="96.83" y2="545.53" stroke="#000" stroke-width="0.85" />
<line x1="94.23" y1="545.53" x2="99.43" y2="545.53" stroke="#000" stroke-width="0.85" />
<line x1="103.24" y1="544.18" x2="103.24" y2="545.78" stroke="#000" stroke-width="0.85" />
<line x1="100.64" y1="545.78" x2="105.84" y2="545.78" stroke="#000" stroke-width="0.85" />
<line x1="109.65" y1="544.18" x2="109.65" y2="545.78" stroke="#000" stroke-width="0.85" />
<line x1="107.05" y1="545.78" x2="112.25" y2="545.78" stroke="#000" stroke-width="0.85" />
<line x1="116.06" y1="544.43" x2="116.06" y2="546.03" stroke="#000" stroke-width="0.85" />
<line x1="113.46" y1="546.03" x2="118.66" y2="546.03" stroke="#000" stroke-width="0.85" />
<line x1="122.46" y1="544.68" x2="122.46" y2="546.28" stroke="#000" stroke-width="0.85" />
<line x1="119.86" y1="546.28" x2="125.06" y2="546.28" stroke="#000" stroke-width="0.85" />
<line x1="128.87" y1="545.17" x2="128.87" y2="546.77" stroke="#000" stroke-width="0.85" />
<line x1="126.27" y1="546.77" x2="131.47" y2="546.77" stroke="#000" stroke-width="0.85" />
<line x1="135.28" y1="545.17" x2="135.28" y2="546.77" stroke="#000" stroke-width="0.85" />
<line x1="132.68" y1="546.77" x2="137.88" y2="546.77" stroke="#000" stroke-width="0.85" />
<line x1="141.69" y1="545.42" x2="141.69" y2="547.02" stroke="#000" stroke-width="0.85" />
<line x1="139.09" y1="547.02" x2="144.29" y2="547.02" stroke="#000" stroke-width="0.85" />
<line x1="148.10" y1="545.42" x2="148.10" y2="547.02" stroke="#000" stroke-width="0.85" />
<line x1="145.50" y1="547.02" x2="150.70" y2="547.02" stroke="#000" stroke-width="0.85" />
<line x1="154.50" y1="545.67" x2="154.50" y2="547.27" stroke="#000" stroke-width="0.85" />
<line x1="151.90" y1="547.27" x2="157.10" y2="547.27" stroke="#000" stroke-width="0.85" />
<line x1="160.91" y1="546.17" x2="160.91" y2="547.77" stroke="#000" stroke-width="0.85" />
<line x1="158.31" y1="547.77" x2="163.51" y2="547.77" stroke="#000" stroke-width="0.85" />
<line x1="167.32" y1="546.66" x2="167.32" y2="548.26" stroke="#000" stroke-width="0.85" />
<line x1="164.72" y1="548.26" x2="169.92" y2="548.26" stroke="#000" stroke-width="0.85" />
<line x1="173.73" y1="546.91" x2="173.73" y2="548.51" stroke="#000" stroke-width="0.85" />
<line x1="171.13" y1="548.51" x2="176.33" y2="548.51" stroke="#000" stroke-width="0.85" />
<line x1="180.14" y1="546.91" x2="180.14" y2="548.51" stroke="#000" stroke-width="0.85" />
<line x1="177.54" y1="548.51" x2="182.74" y2="548.51" stroke="#000" stroke-width="0.85" />
<line x1="186.54" y1="547.16" x2="186.54" y2="548.76" stroke="#000" stroke-width="0.85" />
<line x1="183.94" y1="548.76" x2="189.14" y2="548.76" stroke="#000" stroke-width="0.85" />
<line x1="192.95" y1="547.16" x2="192.95" y2="548.76" stroke="#000" stroke-width="0.85" />
<line x1="190.35" y1="548.76" x2="195.55" y2="548.76" stroke="#000" stroke-width="0.85" />
<line x1="199.36" y1="547.16" x2="199.36" y2="548.76" stroke="#000" stroke-width="0.85" />
<line x1="196.76" y1="548.76" x2="201.96" y2="548.76" stroke="#000" stroke-width="0.85" />
<line x1="205.77" y1="547.41" x2="205.77" y2="549.01" stroke="#000" stroke-width="0.85" />
<line x1="203.17" y1="549.01" x2="208.37" y2="549.01" stroke="#000" stroke-width="0.85" />
<line x1="212.18" y1="547.41" x2="212.18" y2="549.01" stroke="#000" stroke-width="0.85" />
<line x1="209.58" y1="549.01" x2="214.78" y2="549.01" stroke="#000" stroke-width="0.85" />
<line x1="218.58" y1="547.41" x2="218.58" y2="549.01" stroke="#000" stroke-width="0.85" />
<line x1="215.98" y1="549.01" x2="221.18" y2="549.01" stroke="#000" stroke-width="0.85" />
<line x1="224.99" y1="547.65" x2="224.99" y2="549.25" stroke="#000" stroke-width="0.85" />
<line x1="222.39" y1="549.25" x2="227.59" y2="549.25" stroke="#000" stroke-width="0.85" />
<line x1="231.40" y1="548.27" x2="231.40" y2="549.87" stroke="#000" stroke-width="0.85" />
<line x1="228.80" y1="549.87" x2="234.00" y2="549.87" stroke="#000" stroke-width="0.85" />
<line x1="237.81" y1="548.53" x2="237.81" y2="550.13" stroke="#000" stroke-width="0.85" />
<line x1="235.21" y1="550.13" x2="240.41" y2="550.13" stroke="#000" stroke-width="0.85" />
<line x1="244.22" y1="548.53" x2="244.22" y2="550.13" stroke="#000" stroke-width="0.85" />
<line x1="241.62" y1="550.13" x2="246.82" y2="550.13" stroke="#000" stroke-width="0.85" />
<line x1="250.62" y1="548.79" x2="250.62" y2="550.39" stroke="#000" stroke-width="0.85" />
<line x1="248.02" y1="550.39" x2="253.22" y2="550.39" stroke="#000" stroke-width="0.85" />
<line x1="257.03" y1="548.79" x2="257.03" y2="550.39" stroke="#000" stroke-width="0.85" />
<line x1="254.43" y1="550.39" x2="259.63" y2="550.39" stroke="#000" stroke-width="0.85" />
<line x1="263.44" y1="549.06" x2="263.44" y2="550.66" stroke="#000" stroke-width="0.85" />
<line x1="260.84" y1="550.66" x2="266.04" y2="550.66" stroke="#000" stroke-width="0.85" />
<line x1="269.85" y1="549.06" x2="269.85" y2="550.66" stroke="#000" stroke-width="0.85" />
<line x1="267.25" y1="550.66" x2="272.45" y2="550.66" stroke="#000" stroke-width="0.85" />
<line x1="276.26" y1="549.32" x2="276.26" y2="550.92" stroke="#000" stroke-width="0.85" />
<line x1="273.66" y1="550.92" x2="278.86" y2="550.92" stroke="#000" stroke-width="0.85" />
<line x1="282.66" y1="549.32" x2="282.66" y2="550.92" stroke="#000" stroke-width="0.85" />
<line x1="280.06" y1="550.92" x2="285.26" y2="550.92" stroke="#000" stroke-width="0.85" />
<line x1="289.07" y1="549.32" x2="289.07" y2="550.92" stroke="#000" stroke-width="0.85" />
<line x1="286.47" y1="550.92" x2="291.67" y2="550.92" stroke="#000" stroke-width="0.85" />
<line x1="295.48" y1="549.58" x2="295.48" y2="551.18" stroke="#000" stroke-width="0.85" />
<line x1="292.88" y1="551.18" x2="298.08" y2="551.18" stroke="#000" stroke-width="0.85" />
<line x1="301.89" y1="549.58" x2="301.89" y2="551.18" stroke="#000" stroke-width="0.85" />
<line x1="299.29" y1="551.18" x2="304.49" y2="551.18" stroke="#000" stroke-width="0.85" />
<line x1="308.30" y1="549.98" x2="308.30" y2="551.58" stroke="#000" stroke-width="0.85" />
<line x1="305.70" y1="551.58" x2="310.90" y2="551.58" stroke="#000" stroke-width="0.85" />
<line x1="314.70" y1="550.24" x2="314.70" y2="551.84" stroke="#000" stroke-width="0.85" />
<line x1="312.10" y1="551.84" x2="317.30" y2="551.84" stroke="#000" stroke-width="0.85" />
<line x1="321.11" y1="550.24" x2="321.11" y2="551.84" stroke="#000" stroke-width="0.85" />
<line x1="318.51" y1="551.84" x2="323.71" y2="551.84" stroke="#000" stroke-width="0.85" />
<line x1="327.52" y1="550.24" x2="327.52" y2="551.84" stroke="#000" stroke-width="0.85" />
<line x1="324.92" y1="551.84" x2="330.12" y2="551.84" stroke="#000" stroke-width="0.85" />
<line x1="333.93" y1="550.51" x2="333.93" y2="552.11" stroke="#000" stroke-width="0.85" />
<line x1="331.33" y1="552.11" x2="336.53" y2="552.11" stroke="#000" stroke-width="0.85" />
<line x1="340.34" y1="552.35" x2="340.34" y2="553.95" stroke="#000" stroke-width="0.85" />
<line x1="337.74" y1="553.95" x2="342.94" y2="553.95" stroke="#000" stroke-width="0.85" />
<line x1="346.74" y1="553.13" x2="346.74" y2="554.73" stroke="#000" stroke-width="0.85" />
<line x1="344.14" y1="554.73" x2="349.34" y2="554.73" stroke="#000" stroke-width="0.85" />
<line x1="353.15" y1="551.82" x2="353.15" y2="553.42" stroke="#000" stroke-width="0.85" />
<line x1="350.55" y1="553.42" x2="355.75" y2="553.42" stroke="#000" stroke-width="0.85" />
<line x1="359.56" y1="554.45" x2="359.56" y2="556.05" stroke="#000" stroke-width="0.85" />
<line x1="356.96" y1="556.05" x2="362.16" y2="556.05" stroke="#000" stroke-width="0.85" />
<line x1="365.97" y1="553.66" x2="365.97" y2="555.26" stroke="#000" stroke-width="0.85" />
<line x1="363.37" y1="555.26" x2="368.57" y2="555.26" stroke="#000" stroke-width="0.85" />
<line x1="372.38" y1="553.40" x2="372.38" y2="555.00" stroke="#000" stroke-width="0.85" />
<line x1="369.78" y1="555.00" x2="374.98" y2="555.00" stroke="#000" stroke-width="0.85" />
<line x1="378.78" y1="553.92" x2="378.78" y2="555.52" stroke="#000" stroke-width="0.85" />
<line x1="376.18" y1="555.52" x2="381.38" y2="555.52" stroke="#000" stroke-width="0.85" />
<line x1="385.19" y1="553.92" x2="385.19" y2="555.52" stroke="#000" stroke-width="0.85" />
<line x1="382.59" y1="555.52" x2="387.79" y2="555.52" stroke="#000" stroke-width="0.85" />
<circle cx="71.20" cy="541.69" r="2.3" fill="none" stroke="#000" stroke-width="1.0"/>
<rect x="68.95" y="539.44" width="4.5" height="4.5" fill="none" stroke="#000" stroke-width="1.0"/>
<circle cx="77.61" cy="541.69" r="2.3" fill="none" stroke="#000" stroke-width="1.0"/>
<rect x="75.36" y="544.26" width="4.5" height="4.5" fill="none" stroke="#000" stroke-width="1.0"/>
<circle cx="84.02" cy="541.69" r="2.3" fill="none" stroke="#000" stroke-width="1.0"/>
<rect x="81.77" y="543.31" width="4.5" height="4.5" fill="none" stroke="#000" stroke-width="1.0"/>
<circle cx="90.42" cy="542.18" r="2.3" fill="none" stroke="#000" stroke-width="1.0"/>
<rect x="88.17" y="540.43" width="4.5" height="4.5" fill="none" stroke="#000" stroke-width="1.0"/>
<circle cx="96.83" cy="541.63" r="2.3" fill="none" stroke="#000" stroke-width="1.0"/>
<rect x="94.58" y="536.61" width="4.5" height="4.5" fill="none" stroke="#000" stroke-width="1.0"/>
<circle cx="103.24" cy="541.88" r="2.3" fill="none" stroke="#000" stroke-width="1.0"/>
<rect x="100.99" y="535.87" width="4.5" height="4.5" fill="none" stroke="#000" stroke-width="1.0"/>
<circle cx="109.65" cy="541.88" r="2.3" fill="none" stroke="#000" stroke-width="1.0"/>
<rect x="107.40" y="535.87" width="4.5" height="4.5" fill="none" stroke="#000" stroke-width="1.0"/>
<circle cx="116.06" cy="542.13" r="2.3" fill="none" stroke="#000" stroke-width="1.0"/>
<rect x="113.81" y="535.87" width="4.5" height="4.5" fill="none" stroke="#000" stroke-width="1.0"/>
<circle cx="122.46" cy="542.38" r="2.3" fill="none" stroke="#000" stroke-width="1.0"/>
<rect x="120.21" y="535.87" width="4.5" height="4.5" fill="none" stroke="#000" stroke-width="1.0"/>
<circle cx="128.87" cy="542.87" r="2.3" fill="none" stroke="#000" stroke-width="1.0"/>
<rect x="126.62" y="535.87" width="4.5" height="4.5" fill="none" stroke="#000" stroke-width="1.0"/>
<circle cx="135.28" cy="542.87" r="2.3" fill="none" stroke="#000" stroke-width="1.0"/>
<rect x="133.03" y="535.87" width="4.5" height="4.5" fill="none" stroke="#000" stroke-width="1.0"/>
<circle cx="141.69" cy="543.12" r="2.3" fill="none" stroke="#000" stroke-width="1.0"/>
<rect x="139.44" y="536.71" width="4.5" height="4.5" fill="none" stroke="#000" stroke-width="1.0"/>
<circle cx="148.10" cy="543.12" r="2.3" fill="none" stroke="#000" stroke-width="1.0"/>
<rect x="145.85" y="536.96" width="4.5" height="4.5" fill="none" stroke="#000" stroke-width="1.0"/>
<circle cx="154.50" cy="543.37" r="2.3" fill="none" stroke="#000" stroke-width="1.0"/>
<rect x="152.25" y="535.96" width="4.5" height="4.5" fill="none" stroke="#000" stroke-width="1.0"/>
<circle cx="160.91" cy="543.87" r="2.3" fill="none" stroke="#000" stroke-width="1.0"/>
<rect x="158.66" y="535.72" width="4.5" height="4.5" fill="none" stroke="#000" stroke-width="1.0"/>
<circle cx="167.32" cy="544.36" r="2.3" fill="none" stroke="#000" stroke-width="1.0"/>
<rect x="165.07" y="535.72" width="4.5" height="4.5" fill="none" stroke="#000" stroke-width="1.0"/>
<circle cx="173.73" cy="544.61" r="2.3" fill="none" stroke="#000" stroke-width="1.0"/>
<rect x="171.48" y="535.47" width="4.5" height="4.5" fill="none" stroke="#000" stroke-width="1.0"/>
<circle cx="180.14" cy="544.61" r="2.3" fill="none" stroke="#000" stroke-width="1.0"/>
<rect x="177.89" y="534.47" width="4.5" height="4.5" fill="none" stroke="#000" stroke-width="1.0"/>
<circle cx="186.54" cy="544.86" r="2.3" fill="none" stroke="#000" stroke-width="1.0"/>
<rect x="184.29" y="534.47" width="4.5" height="4.5" fill="none" stroke="#000" stroke-width="1.0"/>
<circle cx="192.95" cy="544.86" r="2.3" fill="none" stroke="#000" stroke-width="1.0"/>
<rect x="190.70" y="534.72" width="4.5" height="4.5" fill="none" stroke="#000" stroke-width="1.0"/>
<circle cx="199.36" cy="544.86" r="2.3" fill="none" stroke="#000" stroke-width="1.0"/>
<rect x="197.11" y="534.72" width="4.5" height="4.5" fill="none" stroke="#000" stroke-width="1.0"/>
<circle cx="205.77" cy="545.11" r="2.3" fill="none" stroke="#000" stroke-width="1.0"/>
<rect x="203.52" y="534.97" width="4.5" height="4.5" fill="none" stroke="#000" stroke-width="1.0"/>
<circle cx="212.18" cy="545.11" r="2.3" fill="none" stroke="#000" stroke-width="1.0"/>
<rect x="209.93" y="535.22" width="4.5" height="4.5" fill="none" stroke="#000" stroke-width="1.0"/>
<circle cx="218.58" cy="545.11" r="2.3" fill="none" stroke="#000" stroke-width="1.0"/>
<rect x="216.33" y="535.47" width="4.5" height="4.5" fill="none" stroke="#000" stroke-width="1.0"/>
<circle cx="224.99" cy="545.35" r="2.3" fill="none" stroke="#000" stroke-width="1.0"/>
<rect x="222.74" y="536.21" width="4.5" height="4.5" fill="none" stroke="#000" stroke-width="1.0"/>
<circle cx="231.40" cy="545.97" r="2.3" fill="none" stroke="#000" stroke-width="1.0"/>
<rect x="229.15" y="535.25" width="4.5" height="4.5" fill="none" stroke="#000" stroke-width="1.0"/>
<circle cx="237.81" cy="546.23" r="2.3" fill="none" stroke="#000" stroke-width="1.0"/>
<rect x="235.56" y="535.25" width="4.5" height="4.5" fill="none" stroke="#000" stroke-width="1.0"/>
<circle cx="244.22" cy="546.23" r="2.3" fill="none" stroke="#000" stroke-width="1.0"/>
<rect x="241.97" y="535.25" width="4.5" height="4.5" fill="none" stroke="#000" stroke-width="1.0"/>
<circle cx="250.62" cy="546.49" r="2.3" fill="none" stroke="#000" stroke-width="1.0"/>
<rect x="248.37" y="535.25" width="4.5" height="4.5" fill="none" stroke="#000" stroke-width="1.0"/>
<circle cx="257.03" cy="546.49" r="2.3" fill="none" stroke="#000" stroke-width="1.0"/>
<rect x="254.78" y="536.05" width="4.5" height="4.5" fill="none" stroke="#000" stroke-width="1.0"/>
<circle cx="263.44" cy="546.76" r="2.3" fill="none" stroke="#000" stroke-width="1.0"/>
<rect x="261.19" y="536.05" width="4.5" height="4.5" fill="none" stroke="#000" stroke-width="1.0"/>
<circle cx="269.85" cy="546.76" r="2.3" fill="none" stroke="#000" stroke-width="1.0"/>
<rect x="267.60" y="536.05" width="4.5" height="4.5" fill="none" stroke="#000" stroke-width="1.0"/>
<circle cx="276.26" cy="547.02" r="2.3" fill="none" stroke="#000" stroke-width="1.0"/>
<rect x="274.01" y="536.05" width="4.5" height="4.5" fill="none" stroke="#000" stroke-width="1.0"/>
<circle cx="282.66" cy="547.02" r="2.3" fill="none" stroke="#000" stroke-width="1.0"/>
<rect x="280.41" y="536.05" width="4.5" height="4.5" fill="none" stroke="#000" stroke-width="1.0"/>
<circle cx="289.07" cy="547.02" r="2.3" fill="none" stroke="#000" stroke-width="1.0"/>
<rect x="286.82" y="536.05" width="4.5" height="4.5" fill="none" stroke="#000" stroke-width="1.0"/>
<circle cx="295.48" cy="547.28" r="2.3" fill="none" stroke="#000" stroke-width="1.0"/>
<rect x="293.23" y="536.05" width="4.5" height="4.5" fill="none" stroke="#000" stroke-width="1.0"/>
<circle cx="301.89" cy="547.28" r="2.3" fill="none" stroke="#000" stroke-width="1.0"/>
<rect x="299.64" y="536.05" width="4.5" height="4.5" fill="none" stroke="#000" stroke-width="1.0"/>
<circle cx="308.30" cy="547.68" r="2.3" fill="none" stroke="#000" stroke-width="1.0"/>
<rect x="306.05" y="536.05" width="4.5" height="4.5" fill="none" stroke="#000" stroke-width="1.0"/>
<circle cx="314.70" cy="547.94" r="2.3" fill="none" stroke="#000" stroke-width="1.0"/>
<rect x="312.45" y="535.15" width="4.5" height="4.5" fill="none" stroke="#000" stroke-width="1.0"/>
<circle cx="321.11" cy="547.94" r="2.3" fill="none" stroke="#000" stroke-width="1.0"/>
<rect x="318.86" y="536.05" width="4.5" height="4.5" fill="none" stroke="#000" stroke-width="1.0"/>
<circle cx="327.52" cy="547.94" r="2.3" fill="none" stroke="#000" stroke-width="1.0"/>
<rect x="325.27" y="536.05" width="4.5" height="4.5" fill="none" stroke="#000" stroke-width="1.0"/>
<circle cx="333.93" cy="548.21" r="2.3" fill="none" stroke="#000" stroke-width="1.0"/>
<rect x="331.68" y="536.05" width="4.5" height="4.5" fill="none" stroke="#000" stroke-width="1.0"/>
<circle cx="340.34" cy="550.05" r="2.3" fill="none" stroke="#000" stroke-width="1.0"/>
<rect x="338.09" y="536.05" width="4.5" height="4.5" fill="none" stroke="#000" stroke-width="1.0"/>
<circle cx="346.74" cy="550.83" r="2.3" fill="none" stroke="#000" stroke-width="1.0"/>
<rect x="344.49" y="536.05" width="4.5" height="4.5" fill="none" stroke="#000" stroke-width="1.0"/>
<circle cx="353.15" cy="549.52" r="2.3" fill="none" stroke="#000" stroke-width="1.0"/>
<rect x="350.90" y="536.05" width="4.5" height="4.5" fill="none" stroke="#000" stroke-width="1.0"/>
<circle cx="359.56" cy="552.15" r="2.3" fill="none" stroke="#000" stroke-width="1.0"/>
<rect x="357.31" y="536.05" width="4.5" height="4.5" fill="none" stroke="#000" stroke-width="1.0"/>
<circle cx="365.97" cy="551.36" r="2.3" fill="none" stroke="#000" stroke-width="1.0"/>
<rect x="363.72" y="536.65" width="4.5" height="4.5" fill="none" stroke="#000" stroke-width="1.0"/>
<circle cx="372.38" cy="551.10" r="2.3" fill="none" stroke="#000" stroke-width="1.0"/>
<rect x="370.13" y="536.65" width="4.5" height="4.5" fill="none" stroke="#000" stroke-width="1.0"/>
<circle cx="378.78" cy="551.62" r="2.3" fill="none" stroke="#000" stroke-width="1.0"/>
<rect x="376.53" y="536.65" width="4.5" height="4.5" fill="none" stroke="#000" stroke-width="1.0"/>
<circle cx="385.19" cy="551.62" r="2.3" fill="none" stroke="#000" stroke-width="1.0"/>
<rect x="382.94" y="536.65" width="4.5" height="4.5" fill="none" stroke="#000" stroke-width="1.0"/>
<circle cx="315.3" cy="483.4" r="2.8" fill="#fff" stroke="#000" stroke-width="1.0"/>
<rect x="312.6" y="498.1" width="5.4" height="5.4" fill="#fff" stroke="#000" stroke-width="1.0"/>
<text x="330.30" y="486.80" font-size="11" text-anchor="start" >Control</text>
<text x="330.00" y="504.20" font-size="11" text-anchor="start" >Na-butyrate</text>
<text transform="translate(465.7,347.0) scale(0.93,1.0)" font-size="24.6">C</text>
<line x1="542.30" y1="369.65" x2="542.30" y2="583.71" stroke="#000" stroke-width="1.45" />
<line x1="533.20" y1="583.06" x2="542.30" y2="583.06" stroke="#000" stroke-width="1.3" />
<text transform="translate(527.6,588.61)" font-size="15.5" text-anchor="end">-200</text>
<line x1="533.20" y1="547.60" x2="542.30" y2="547.60" stroke="#000" stroke-width="1.3" />
<text transform="translate(527.6,553.15)" font-size="15.5" text-anchor="end">0</text>
<line x1="533.20" y1="512.14" x2="542.30" y2="512.14" stroke="#000" stroke-width="1.3" />
<text transform="translate(527.6,517.69)" font-size="15.5" text-anchor="end">200</text>
<line x1="533.20" y1="476.68" x2="542.30" y2="476.68" stroke="#000" stroke-width="1.3" />
<text transform="translate(527.6,482.23)" font-size="15.5" text-anchor="end">400</text>
<line x1="533.20" y1="441.22" x2="542.30" y2="441.22" stroke="#000" stroke-width="1.3" />
<text transform="translate(527.6,446.77)" font-size="15.5" text-anchor="end">600</text>
<line x1="533.20" y1="405.76" x2="542.30" y2="405.76" stroke="#000" stroke-width="1.3" />
<text transform="translate(527.6,411.31)" font-size="15.5" text-anchor="end">800</text>
<line x1="533.20" y1="370.30" x2="542.30" y2="370.30" stroke="#000" stroke-width="1.3" />
<text transform="translate(527.6,375.85)" font-size="15.5" text-anchor="end">1000</text>
<line x1="542.30" y1="547.60" x2="685.00" y2="547.60" stroke="#000" stroke-width="1.5" stroke-dasharray="5 1.4"/>
<line x1="582.60" y1="384.10" x2="582.60" y2="413.00" stroke="#000" stroke-width="1.3" />
<line x1="571.90" y1="384.10" x2="593.00" y2="384.10" stroke="#000" stroke-width="1.3" />
<line x1="582.60" y1="555.40" x2="582.60" y2="557.80" stroke="#000" stroke-width="1.3" />
<line x1="571.90" y1="557.80" x2="593.00" y2="557.80" stroke="#000" stroke-width="1.3" />
<rect x="562.80" y="413.00" width="39.60" height="142.40" fill="#fff" stroke="#000" stroke-width="1.3"/>
<line x1="562.80" y1="547.60" x2="602.40" y2="547.60" stroke="#000" stroke-width="2.4" />
<line x1="643.75" y1="461.00" x2="643.75" y2="471.10" stroke="#000" stroke-width="1.3" />
<line x1="633.30" y1="461.00" x2="654.50" y2="461.00" stroke="#000" stroke-width="1.3" />
<line x1="643.75" y1="550.40" x2="643.75" y2="552.00" stroke="#000" stroke-width="1.3" />
<line x1="633.30" y1="552.00" x2="654.50" y2="552.00" stroke="#000" stroke-width="1.3" />
<rect x="623.60" y="471.10" width="40.30" height="79.30" fill="#fff" stroke="#000" stroke-width="1.3"/>
<line x1="623.60" y1="547.60" x2="663.90" y2="547.60" stroke="#000" stroke-width="2.4" />
<text x="643.60" y="442.10" font-size="23.5" text-anchor="middle" >*</text>
<text x="644.60" y="579.30" font-size="23.5" text-anchor="middle" >*</text>
<text transform="translate(484.2,565.9) rotate(-90) scale(0.975,1)" font-size="15.4">Current density (pA/pF)</text>
<text transform="translate(590.40,603.30) rotate(-53)" font-size="15.35" text-anchor="end">TRPM6/TRPM7</text>
<text transform="translate(656.50,603.20) rotate(-53)" font-size="15.35" text-anchor="end">TRPM6/TRPM7</text>
<text transform="translate(663.40,626.20) rotate(-53)" font-size="15.35" text-anchor="end">+ Na-butyrate</text>
</svg>
</body></html>
